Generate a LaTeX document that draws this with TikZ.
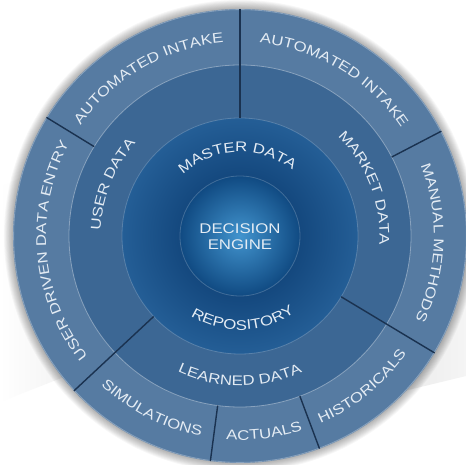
\documentclass[tikz,border=0pt]{standalone}
\usepackage{fontspec}
\newfontfamily\eurofont[FakeStretch=1.2]{Liberation Sans}
\usetikzlibrary{decorations.text}
\definecolor{outerring}{RGB}{86,123,162}
\definecolor{midring}{RGB}{60,103,148}
\definecolor{innerdark}{RGB}{20,72,126}
\definecolor{innerlight}{RGB}{36,94,150}
\definecolor{corein}{RGB}{66,148,206}
\definecolor{coreout}{RGB}{16,74,130}
\definecolor{divline}{RGB}{26,50,80}
\definecolor{txt}{RGB}{228,236,244}
\pgfdeclareradialshading{innershade}{\pgfpoint{0bp}{0bp}}{color(0bp)=(innerdark); color(12.7bp)=(innerdark); color(25bp)=(innerlight); color(50bp)=(innerlight)}
\pgfdeclareradialshading{coreshade}{\pgfpoint{0bp}{0bp}}{color(0bp)=(corein); color(25bp)=(coreout); color(50bp)=(coreout)}
\tikzset{
  ringtext/.style={decorate, decoration={text along path, text align=center,
     text={|\fontsize{14}{14}\selectfont\eurofont\color{txt}|#1}}},
  divider/.style={draw=divline, line width=1.4pt},
  rim/.style={draw=white, line width=0.8pt},
  coretext/.style={text=txt, font=\fontsize{14}{16}\selectfont\eurofont, align=center}
}
\begin{document}
\begin{tikzpicture}[x=1pt,y=1pt]
\useasboundingbox (-240,-229) rectangle (226,236);
\fill[white] (-240,-229) rectangle (226,236);
% background bands
\shade[left color=white, right color=black!16] (-240,49) -- (-20,143) -- (-20,-80) -- (-240,-166) -- cycle;
\shade[left color=black!10, right color=black!4] (120,-20) -- (226,20) -- (226,-140) -- (160,-156) -- cycle;
% soft shadow
\foreach \i in {1,...,10} {\fill[black, opacity=0.03] (0,0) circle (227+\i*0.9);}
% rings
\fill[outerring] (0,0) circle (227);
\fill[midring] (0,0) circle (171);
\shade[shading=innershade] (0,0) circle (118);
\shade[shading=coreshade] (0,0) circle (60);
\draw[rim, opacity=0.3] (0,0) circle (226.4);
\draw[rim, opacity=0.35] (0,0) circle (171);
\draw[rim, opacity=0.2] (0,0) circle (118);
\draw[rim, opacity=0.2] (0,0) circle (60);
% dividers
\draw[divider] (90:118) -- (90:227);
\draw[divider] (148.5:171) -- (148.5:227);
\draw[divider] (27.5:171) -- (27.5:227);
\draw[divider] (-31:118) -- (-31:227);
\draw[divider] (-69.5:171) -- (-69.5:227);
\draw[divider] (-97.5:171) -- (-97.5:227);
\draw[divider] (223:118) -- (223:227);
% outer ring texts (clockwise)
\path[ringtext={AUTOMATED INTAKE}] (170:194) arc[start angle=170, end angle=70, radius=194];
\path[ringtext={AUTOMATED INTAKE}] (109:194) arc[start angle=109, end angle=9, radius=194];
\path[ringtext={MANUAL METHODS}] (48:194) arc[start angle=48, end angle=-52, radius=194];
\path[ringtext={USER DRIVEN DATA ENTRY}] (240:194) arc[start angle=240, end angle=130, radius=194];
% outer ring texts (counter-clockwise)
\path[ringtext={SIMULATIONS}] (203:204) arc[start angle=203, end angle=283, radius=204];
\path[ringtext={ACTUALS}] (237:204) arc[start angle=237, end angle=317, radius=204];
\path[ringtext={HISTORICALS}] (269:204) arc[start angle=269, end angle=349, radius=204];
% middle ring
\path[ringtext={USER DATA}] (208:139.5) arc[start angle=208, end angle=108, radius=139.5];
\path[ringtext={MARKET DATA}] (71:139.5) arc[start angle=71, end angle=-29, radius=139.5];
\path[ringtext={LEARNED DATA}] (210:149.5) arc[start angle=210, end angle=330, radius=149.5];
% inner ring
\path[ringtext={MASTER DATA}] (162:84) arc[start angle=162, end angle=22, radius=84];
\path[ringtext={REPOSITORY}] (202:94) arc[start angle=202, end angle=342, radius=94];
% core
\node[coretext] (engine) at (0,-1) {DECISION\\ENGINE};
\end{tikzpicture}
\end{document}
